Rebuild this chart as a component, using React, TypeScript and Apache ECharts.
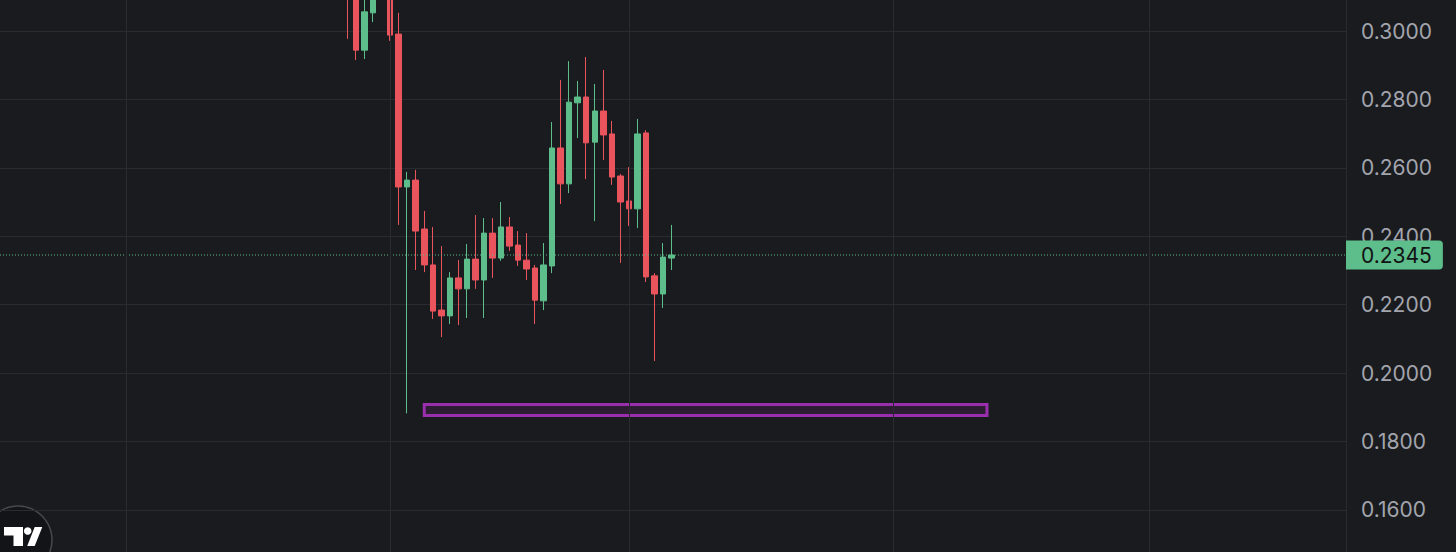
import React, { useEffect, useRef } from "react";
import * as echarts from "echarts";

// Daily candles (index 0 = Jan 27, index 5 = Feb 1, index 33 = Mar 1)
const candleOpen = [
  0.318, 0.312, 0.2944, 0.3053, 0.316, 0.324, 0.2991, 0.2544, 0.2564, 0.2421,
  0.2316, 0.2184, 0.2167, 0.2278, 0.2246, 0.2333, 0.2272, 0.2409, 0.2336, 0.2427,
  0.2374, 0.233, 0.2307, 0.2211, 0.2313, 0.2658, 0.2553, 0.279, 0.2807, 0.2675,
  0.2766, 0.2699, 0.2576, 0.2503, 0.248, 0.2702, 0.2284, 0.2231, 0.2336,
];
const candleClose = [
  0.312, 0.2944, 0.3056, 0.315, 0.324, 0.2988, 0.2544, 0.2564, 0.2415, 0.2316,
  0.2181, 0.2167, 0.2278, 0.2246, 0.2333, 0.2272, 0.2409, 0.2336, 0.2427, 0.2371,
  0.233, 0.2304, 0.2213, 0.2316, 0.2658, 0.2553, 0.2792, 0.2807, 0.2673, 0.2766,
  0.2696, 0.2573, 0.25, 0.248, 0.2699, 0.2281, 0.2231, 0.2339, 0.2345,
];
const candleLow = [
  0.2977, 0.2915, 0.2918, 0.3026, 0.312, 0.2971, 0.2433, 0.1882, 0.2301, 0.2295,
  0.2158, 0.2105, 0.2143, 0.214, 0.2161, 0.2246, 0.2161, 0.2278, 0.2328, 0.2357,
  0.2313, 0.2272, 0.2143, 0.2184, 0.2292, 0.2494, 0.2526, 0.2687, 0.2567, 0.2444,
  0.2623, 0.255, 0.2322, 0.243, 0.2424, 0.2266, 0.2035, 0.219, 0.2301,
];
const candleHigh = [
  0.322, 0.315, 0.312, 0.32, 0.328, 0.326, 0.3053, 0.2588, 0.2594, 0.2474,
  0.2427, 0.2371, 0.2295, 0.233, 0.2377, 0.2462, 0.2453, 0.2453, 0.25, 0.2456,
  0.2415, 0.2409, 0.2316, 0.238, 0.2734, 0.2857, 0.2912, 0.2854, 0.2924, 0.2845,
  0.2886, 0.2737, 0.2582, 0.2602, 0.2743, 0.271, 0.2292, 0.238, 0.2433,
];

const monthStartIndex = [-26, 5, 33, 64, 94];
const xMin = -40.76;
const xMax = 117.11;
const yTickMin = 0.14;
const yTickMax = 0.32;
const yTickStep = 0.02;
const lastPrice = 0.2345;
const zoneStart = [9, 0.1908];
const zoneEnd = [75, 0.1876];

const upColor = "#5dbd8b";
const downColor = "#e9545d";
const bg = "#1a1b1f";
const gridColor = "#2a2b30";
const textColor = "#a2a5ad";

export default function App() {
  const ref = useRef<HTMLDivElement>(null);

  useEffect(() => {
    if (!ref.current) return;
    const chart = echarts.init(ref.current, undefined, { renderer: "svg" });
    const data = candleOpen.map((o, i) => [i, o, candleClose[i], candleLow[i], candleHigh[i]]);

    chart.setOption({
      animation: false,
      backgroundColor: bg,
      grid: {
        left: 0,
        width: 1346,
        top: -37.4,
        height: 615.6,
        containLabel: false,
        outerBoundsMode: "none",
      },
      xAxis: {
        type: "value",
        min: xMin,
        max: xMax,
        show: false,
      },
      yAxis: {
        type: "value",
        position: "right",
        min: yTickMin,
        max: yTickMax,
        interval: yTickStep,
        axisLine: { show: true, onZero: false, lineStyle: { color: gridColor, width: 1 } },
        axisTick: { show: false },
        axisLabel: {
          color: textColor,
          fontFamily: "Inter",
          fontSize: 21,
          margin: 15,
          showMinLabel: false,
          showMaxLabel: false,
          formatter: (v: number) => v.toFixed(4),
        },
        splitLine: { show: true, lineStyle: { color: gridColor, width: 1 } },
      },
      series: [
        {
          type: "candlestick",
          data,
          encode: { x: 0, y: [1, 2, 3, 4] },
          barWidth: 6,
          clip: true,
          z: 3,
          itemStyle: {
            color: upColor,
            color0: downColor,
            borderColor: upColor,
            borderColor0: downColor,
            borderWidth: 1,
          },
          markLine: {
            silent: true,
            symbol: ["none", "none"],
            data: monthStartIndex.map((x) => ({
              xAxis: x,
              lineStyle: { color: gridColor, width: 1, type: "solid" },
              label: { show: false },
            })),
          },
          markArea: {
            silent: true,
            itemStyle: {
              color: "rgba(156, 39, 176, 0.14)",
              borderColor: "#9a2fae",
              borderWidth: 3,
            },
            data: [
              [
                { xAxis: zoneStart[0], yAxis: zoneStart[1] },
                { xAxis: zoneEnd[0], yAxis: zoneEnd[1] },
              ],
            ],
          },
        },
        {
          type: "line",
          data: [
            [xMin, lastPrice],
            [xMax, lastPrice],
          ],
          showSymbol: false,
          symbol: "none",
          silent: true,
          z: 4,
          clip: false,
          lineStyle: { color: upColor, width: 1, type: [1, 2] },
          endLabel: {
            show: true,
            distance: 0,
            formatter: () => lastPrice.toFixed(4),
            color: "#111214",
            fontFamily: "Inter",
            fontSize: 21,
            lineHeight: 21,
            backgroundColor: upColor,
            padding: [4, 11, 4, 15],
            borderRadius: [0, 4, 4, 0],
          },
        },
      ],
      graphic: [
        {
          type: "group",
          z: 100,
          children: [
            {
              type: "circle",
              shape: { cx: 18, cy: 540, r: 34 },
              style: { fill: "#131418", stroke: "#45484f", lineWidth: 1.5 },
            },
            {
              type: "polygon",
              shape: {
                points: [[4, 527], [23, 527], [23, 546], [13.5, 546], [13.5, 535.5], [4, 535.5]],
              },
              style: { fill: "#ffffff" },
            },
            {
              type: "circle",
              shape: { cx: 27.7, cy: 531, r: 3.8 },
              style: { fill: "#ffffff" },
            },
            {
              type: "polygon",
              shape: { points: [[34.7, 527], [42.3, 527], [34.7, 546], [27.2, 546]] },
              style: { fill: "#ffffff" },
            },
          ],
        },
      ],
    });

    return () => chart.dispose();
  }, []);

  return (
    <div
      ref={ref}
      style={{ position: "fixed", left: 0, top: 0, width: 1456, height: 552, background: bg }}
    />
  );
}
